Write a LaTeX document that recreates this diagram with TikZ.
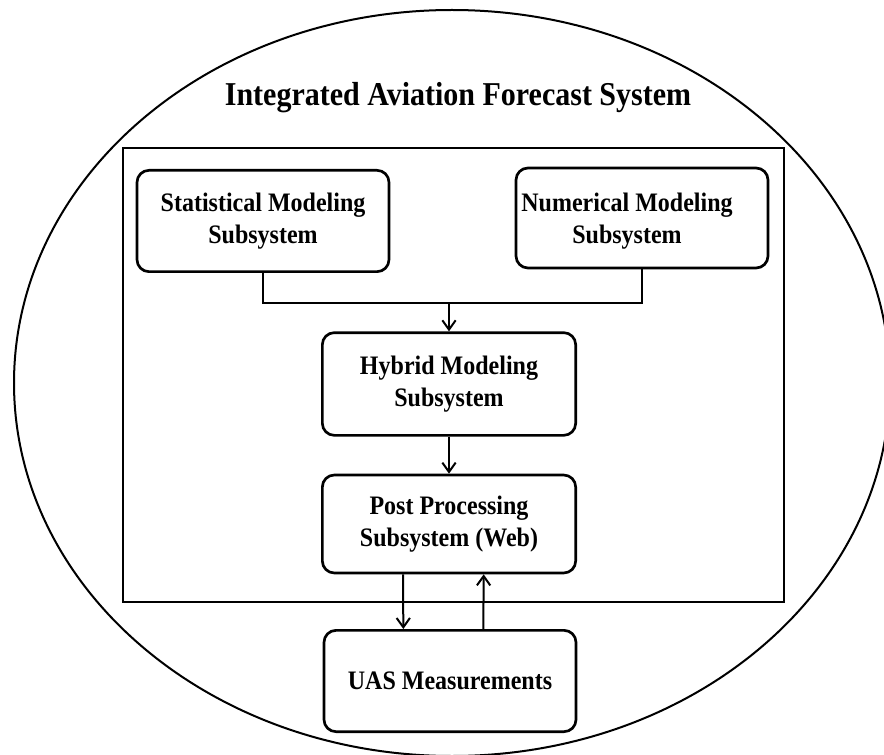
\documentclass[tikz,border=0pt]{standalone}
\usepackage{fontspec}
\setmainfont{Liberation Serif}[FakeStretch=0.9]
\usetikzlibrary{arrows.meta}
\tikzset{
  box/.style={draw, line width=2pt, rounded corners=9pt, minimum width=190pt,
    minimum height=75pt, align=center, font=\fontsize{20}{24}\selectfont\bfseries},
  boxtext/.style={align=center, font=\fontsize{20}{24}\selectfont\bfseries},
  link/.style={line width=1.5pt},
  tip/.style={-{Straight Barb[length=7pt,width=10pt]}}
}

\begin{document}
\begin{tikzpicture}[x=0.75pt, y=-0.75pt]

\clip (0,0) rectangle (884,755);
\draw[line width=1.5pt] (452,383) ellipse [x radius=438, y radius=373];

\node[anchor=base, font=\fontsize{25}{30}\selectfont\bfseries] (title) at (458,106) {Integrated Aviation Forecast System};

\draw[line width=2pt] (123,148) rectangle (784,602);

\node[box, minimum width=189pt, minimum height=76pt] (stat) at (263,221) {Statistical Modeling\\Subsystem};
\node[box, minimum width=189pt] (num) at (642,218) {};
\node[boxtext] (numtext) at (627,221) {Numerical Modeling\\Subsystem};
\node[box, minimum width=190pt, minimum height=77pt] (hyb) at (449,384) {Hybrid Modeling\\Subsystem};
\node[box, minimum height=73.5pt] (post) at (449,524) {Post Processing\\Subsystem (Web)};
\node[box, minimum width=189pt, minimum height=76pt] (uas) at (450,681) {UAS Measurements};

\coordinate (join) at (449,303);
\draw[link] (stat.south) |- (join) -| (num.south);
\draw[link, tip] (join) -- (hyb.north);
\draw[link, tip] (hyb) -- (post);
\draw[link, tip] ([xshift=-34.5pt]post.south) -- ([xshift=-35pt]uas.north);
\draw[link, tip] ([xshift=25pt]uas.north) -- ([xshift=26pt]post.south);

\end{tikzpicture}
\end{document}
